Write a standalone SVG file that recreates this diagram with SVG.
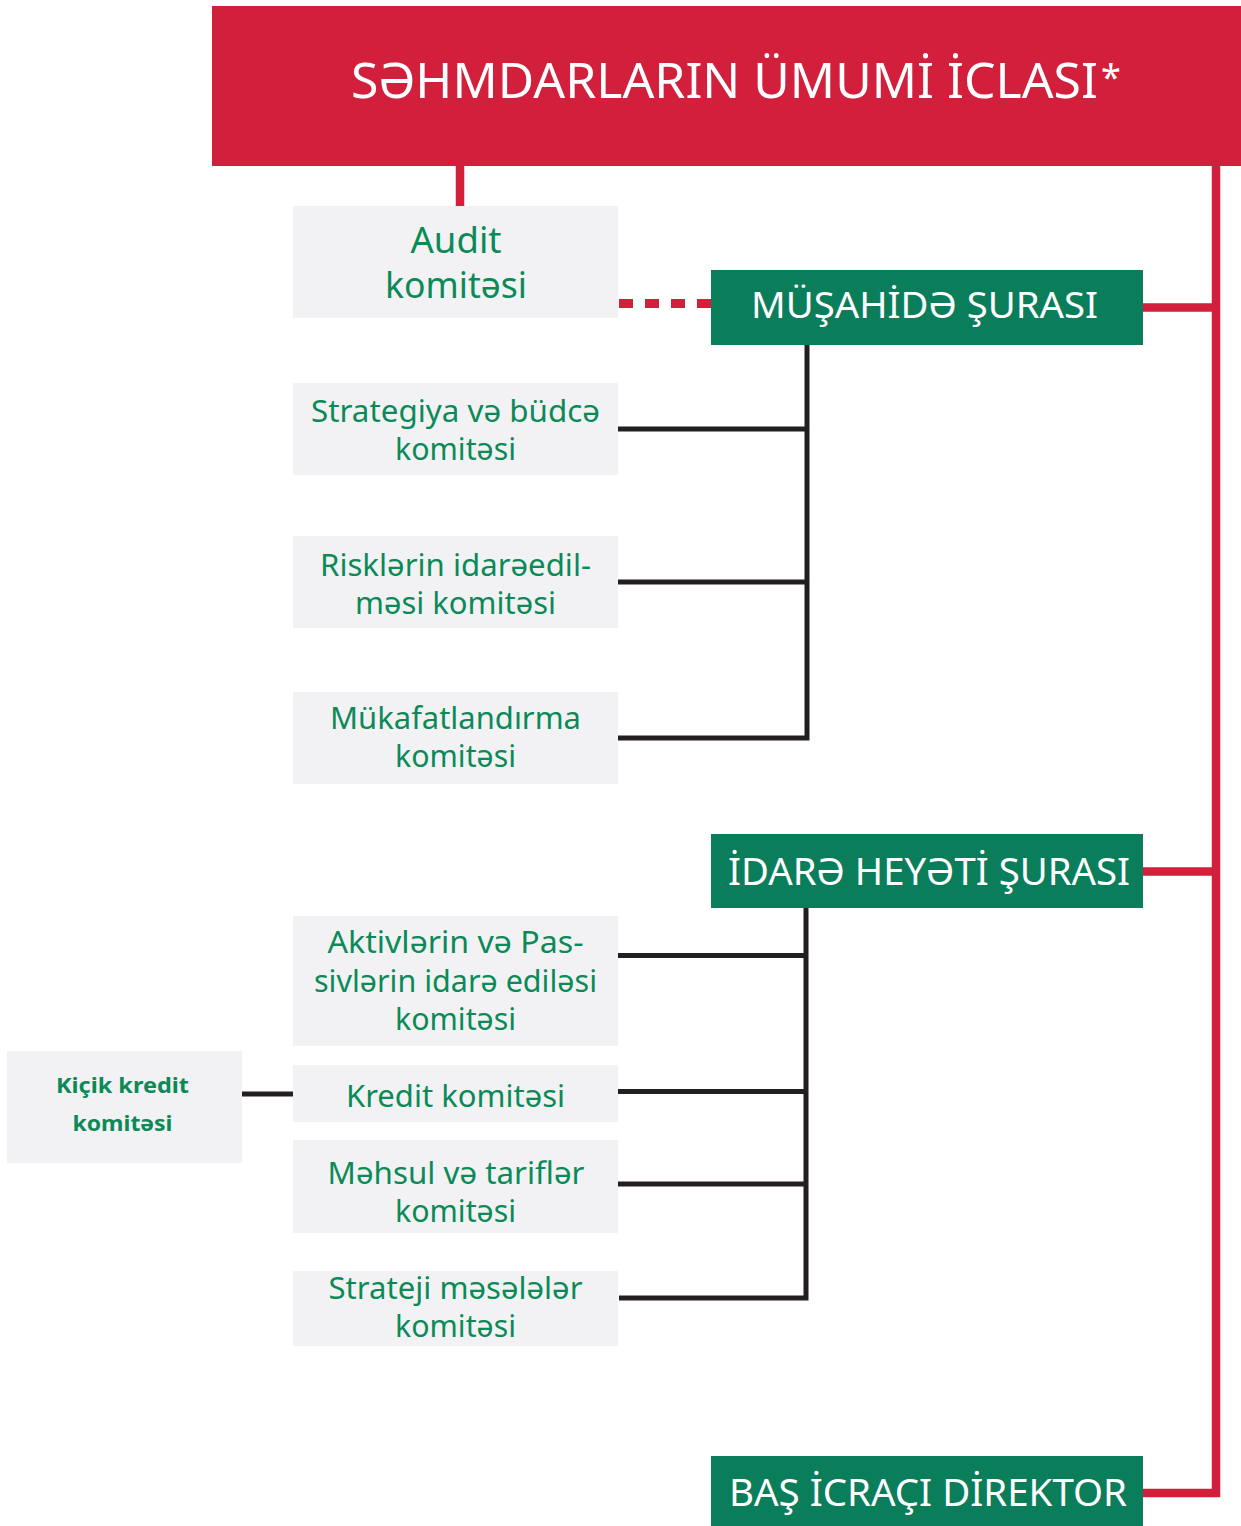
<svg xmlns="http://www.w3.org/2000/svg" width="1241" height="1526" viewBox="0 0 1241 1526">
<style>
.red{fill:#D21F3B}
.board{fill:#0A7E5B}
.com{fill:#F2F2F4}
.wt{fill:#FFFFFF;font-family:"Noto Sans","Open Sans",sans-serif}
.gt{fill:#0B8A57;font-family:"Noto Sans","Open Sans",sans-serif;font-size:31px;text-anchor:middle}
.rl{fill:none;stroke:#D21F3B;stroke-width:8.5}
.bl{fill:none;stroke:#231F20;stroke-width:5}
</style>
<rect width="1241" height="1526" fill="#FFFFFF"/>
<g id="connectors">
<line class="rl" x1="460" y1="160" x2="460" y2="207"/>
<line x1="619" y1="303.5" x2="711" y2="303.5" stroke="#D21F3B" stroke-width="9" stroke-dasharray="14 12"/>
<path class="rl" d="M1216 160 V1493 H1143" stroke-linejoin="miter"/>
<line class="rl" x1="1143" y1="307.5" x2="1216" y2="307.5"/>
<line class="rl" x1="1143" y1="871.5" x2="1216" y2="871.5"/>
<path class="bl" d="M807 344 V738 H618"/>
<line class="bl" x1="618" y1="429" x2="807" y2="429"/>
<line class="bl" x1="618" y1="582" x2="807" y2="582"/>
<path class="bl" d="M806 907 V1298 H619"/>
<line class="bl" x1="617" y1="955.5" x2="806" y2="955.5"/>
<line class="bl" x1="617" y1="1091.5" x2="806" y2="1091.5"/>
<line class="bl" x1="617" y1="1184" x2="806" y2="1184"/>
<line class="bl" x1="241" y1="1094" x2="294" y2="1094"/>
</g>
<g id="n-ic">
<rect class="red" x="212" y="6" width="1029" height="160"/>
<text class="wt" x="351" y="98" font-size="49" textLength="747" lengthAdjust="spacingAndGlyphs">SƏHMDARLARIN ÜMUMİ İCLASI</text>
<text class="wt" x="1101" y="90" font-size="36">*</text>
</g>
<g id="n-audit">
<rect class="com" x="293" y="206" width="325" height="112"/>
<text class="gt" x="456" y="253" style="font-size:36px" textLength="91" lengthAdjust="spacingAndGlyphs">Audit</text>
<text class="gt" x="456" y="298" style="font-size:36px" textLength="142" lengthAdjust="spacingAndGlyphs">komitəsi</text>
</g>
<g id="n-ms">
<rect class="board" x="711" y="270" width="432" height="75"/>
<text class="wt" x="751" y="318" font-size="36" textLength="347" lengthAdjust="spacingAndGlyphs">MÜŞAHİDƏ ŞURASI</text>
</g>
<g id="n-strat">
<rect class="com" x="293" y="383" width="325" height="92"/>
<text class="gt" x="455.5" y="422" textLength="289" lengthAdjust="spacingAndGlyphs">Strategiya və büdcə</text>
<text class="gt" x="455.5" y="460" textLength="121" lengthAdjust="spacingAndGlyphs">komitəsi</text>
</g>
<g id="n-risk">
<rect class="com" x="293" y="536" width="325" height="92"/>
<text class="gt" x="455.5" y="576" textLength="271" lengthAdjust="spacingAndGlyphs">Risklərin idarəedil-</text>
<text class="gt" x="455.5" y="614" textLength="201" lengthAdjust="spacingAndGlyphs">məsi komitəsi</text>
</g>
<g id="n-muk">
<rect class="com" x="293" y="692" width="325" height="92"/>
<text class="gt" x="455.5" y="729" textLength="251" lengthAdjust="spacingAndGlyphs">Mükafatlandırma</text>
<text class="gt" x="455.5" y="767" textLength="121" lengthAdjust="spacingAndGlyphs">komitəsi</text>
</g>
<g id="n-ih">
<rect class="board" x="711" y="834" width="432" height="74"/>
<text class="wt" x="728" y="885" font-size="38" textLength="402" lengthAdjust="spacingAndGlyphs">İDARƏ HEYƏTİ ŞURASI</text>
</g>
<g id="n-akt">
<rect class="com" x="293" y="916" width="325" height="130"/>
<text class="gt" x="455.5" y="953" textLength="256" lengthAdjust="spacingAndGlyphs">Aktivlərin və Pas-</text>
<text class="gt" x="455.5" y="992" textLength="283" lengthAdjust="spacingAndGlyphs">sivlərin idarə ediləsi</text>
<text class="gt" x="455.5" y="1030" textLength="121" lengthAdjust="spacingAndGlyphs">komitəsi</text>
</g>
<g id="n-kiçik">
<rect class="com" x="7" y="1051" width="235" height="112"/>
<text class="gt" x="122.5" y="1093" style="font-size:22px;font-weight:bold" textLength="133" lengthAdjust="spacingAndGlyphs">Kiçik kredit</text>
<text class="gt" x="122.5" y="1131" style="font-size:22px;font-weight:bold" textLength="100" lengthAdjust="spacingAndGlyphs">komitəsi</text>
</g>
<g id="n-kredit">
<rect class="com" x="293" y="1065" width="325" height="57"/>
<text class="gt" x="455.5" y="1107" textLength="219" lengthAdjust="spacingAndGlyphs">Kredit komitəsi</text>
</g>
<g id="n-mehsul">
<rect class="com" x="293" y="1140" width="325" height="93"/>
<text class="gt" x="456" y="1184" textLength="257" lengthAdjust="spacingAndGlyphs">Məhsul və tariflər</text>
<text class="gt" x="455.5" y="1222" textLength="121" lengthAdjust="spacingAndGlyphs">komitəsi</text>
</g>
<g id="n-strateji">
<rect class="com" x="293" y="1271" width="325" height="75"/>
<text class="gt" x="455.5" y="1299" textLength="254" lengthAdjust="spacingAndGlyphs">Strateji məsələlər</text>
<text class="gt" x="455.5" y="1337" textLength="121" lengthAdjust="spacingAndGlyphs">komitəsi</text>
</g>
<g id="n-bas">
<rect class="board" x="711" y="1456" width="432" height="70"/>
<text class="wt" x="729" y="1506" font-size="38" textLength="398" lengthAdjust="spacingAndGlyphs">BAŞ İCRAÇI DİREKTOR</text>
</g>
</svg>
